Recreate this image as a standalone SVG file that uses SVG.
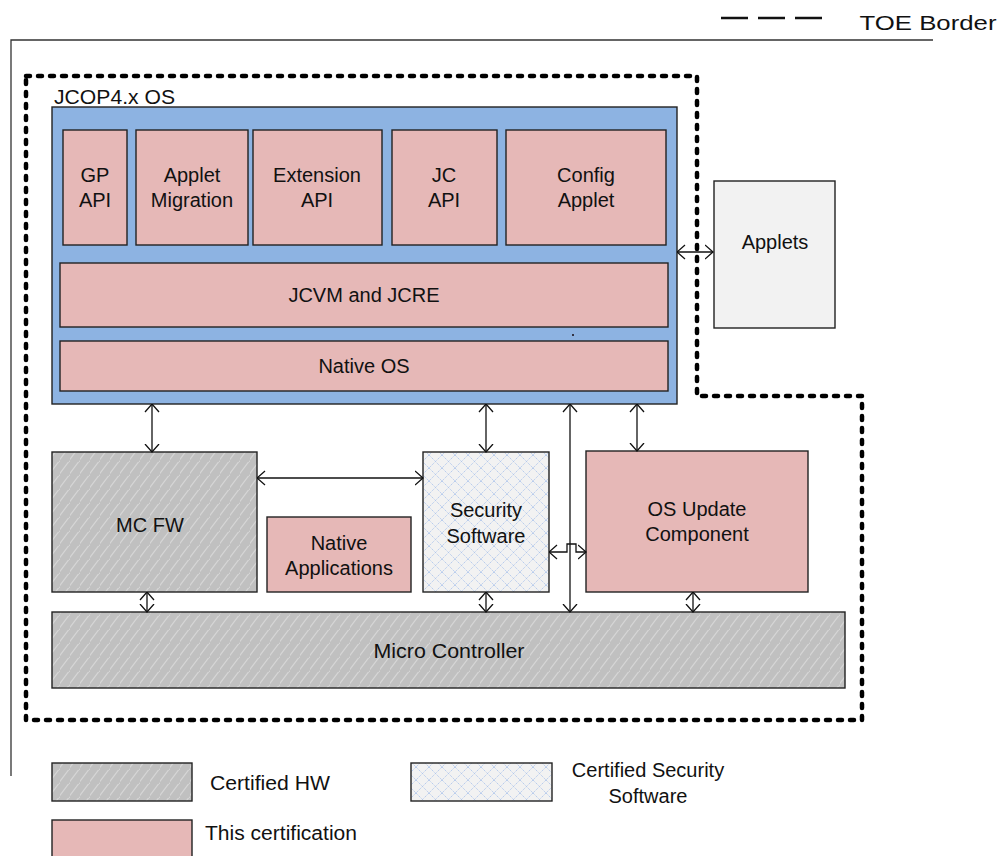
<svg xmlns="http://www.w3.org/2000/svg" width="1005" height="856" viewBox="0 0 1005 856">
<style>
text{font-family:"Liberation Sans",Arial,sans-serif;font-size:20px;fill:#111;text-anchor:middle}
.box{stroke:#222;stroke-width:1.4}
.pink{fill:#E6B8B7}
.blue{fill:#8DB3E2}
.hw{fill:url(#hatch)}
.sw{fill:url(#cross)}
.conn{fill:none;stroke:#111;stroke-width:1.3;marker-start:url(#ah);marker-end:url(#ah)}
</style>
<defs>
<pattern id="hatch" patternUnits="userSpaceOnUse" width="10" height="14">
<rect width="10" height="14" fill="#C0C0C0"/>
<path d="M-2,14 L10,-2 M8,16 L12,10" stroke="#D6D6D6" stroke-width="1.2" fill="none"/>
</pattern>
<pattern id="cross" patternUnits="userSpaceOnUse" width="13" height="13">
<rect width="13" height="13" fill="#F2F2F2"/>
<path d="M0,0 L13,13 M13,0 L0,13" stroke="#AFC6EC" stroke-width="1" stroke-dasharray="1.2 1" fill="none"/>
</pattern>
<marker id="ah" viewBox="0 0 9 16" markerWidth="9" markerHeight="16" refX="8.5" refY="8" orient="auto-start-reverse" markerUnits="userSpaceOnUse">
<path d="M0.5,1 L8.5,8 L0.5,15" fill="none" stroke="#111" stroke-width="1.3"/>
</marker>
</defs>
<rect width="1005" height="856" fill="#fff"/>

<g id="toe-legend">
<path d="M721,18 H823" stroke="#111" stroke-width="2.6" stroke-dasharray="27 10"/>
<text x="928" y="30" style="font-size:21px" textLength="137" lengthAdjust="spacingAndGlyphs">TOE Border</text>
</g>

<g id="outer-frame">
<path d="M933,40 H11 V776" fill="none" stroke="#333" stroke-width="1.3"/>
</g>

<g id="toe-border">
<path d="M26,76 H697 V396 H862 V720 H26 Z" fill="none" stroke="#000" stroke-width="4.5" stroke-linecap="round" stroke-linejoin="round" stroke-dasharray="4 8"/>
</g>

<g id="jcop-os">
<text x="54" y="104" style="text-anchor:start" textLength="121" lengthAdjust="spacingAndGlyphs">JCOP4.x OS</text>
<rect class="box blue" x="52" y="107" width="625" height="297"/>
</g>

<g id="gp-api">
<rect class="box pink" x="63" y="130" width="64" height="115"/>
<text x="95" y="182">GP</text><text x="95" y="207">API</text>
</g>
<g id="applet-migration">
<rect class="box pink" x="136" y="130" width="112" height="115"/>
<text x="192" y="182">Applet</text><text x="192" y="207">Migration</text>
</g>
<g id="extension-api">
<rect class="box pink" x="253" y="130" width="129" height="115"/>
<text x="317" y="182">Extension</text><text x="317" y="207">API</text>
</g>
<g id="jc-api">
<rect class="box pink" x="392" y="130" width="105" height="115"/>
<text x="444" y="182">JC</text><text x="444" y="207">API</text>
</g>
<g id="config-applet">
<rect class="box pink" x="506" y="130" width="160" height="115"/>
<text x="586" y="182">Config</text><text x="586" y="207">Applet</text>
</g>
<g id="jcvm-jcre">
<rect class="box pink" x="60" y="263" width="608" height="64"/>
<text x="364" y="302">JCVM and JCRE</text>
</g>
<rect x="572" y="334" width="2" height="2" fill="#334"/>
<g id="native-os">
<rect class="box pink" x="60" y="341" width="608" height="50"/>
<text x="364" y="373">Native OS</text>
</g>

<g id="applets">
<rect class="box" fill="#F2F2F2" x="714" y="181" width="121" height="147"/>
<text x="775" y="249">Applets</text>
</g>

<g id="mc-fw">
<rect class="box hw" x="52" y="452" width="205" height="140"/>
<text x="150" y="532">MC FW</text>
</g>
<g id="native-applications">
<rect class="box pink" x="267" y="517" width="144" height="75"/>
<text x="339" y="550">Native</text><text x="339" y="575">Applications</text>
</g>
<g id="security-software">
<rect class="box sw" x="423" y="452" width="126" height="140"/>
<text x="486" y="517">Security</text><text x="486" y="543">Software</text>
</g>
<g id="os-update">
<rect class="box pink" x="586" y="451" width="222" height="141"/>
<text x="697" y="516">OS Update</text><text x="697" y="541">Component</text>
</g>
<g id="micro-controller">
<rect class="box hw" x="52" y="612" width="793" height="76"/>
<text x="449" y="658" textLength="151" lengthAdjust="spacingAndGlyphs">Micro Controller</text>
</g>

<g id="connectors">
<path class="conn" d="M677,252 H713"/>
<path class="conn" d="M152,404 V452"/>
<path class="conn" d="M486,404 V452"/>
<path class="conn" d="M570,404 V612"/>
<path class="conn" d="M637,404 V451"/>
<path class="conn" d="M257,478 H423"/>
<path class="conn" d="M549,552 H567 V544 H576 V552 H586"/>
<path class="conn" d="M147,592 V612"/>
<path class="conn" d="M486,592 V612"/>
<path class="conn" d="M693,592 V612"/>
</g>

<g id="legend">
<rect class="box hw" x="52" y="763" width="140" height="38"/>
<text x="270" y="790" textLength="120" lengthAdjust="spacingAndGlyphs">Certified HW</text>
<rect class="box sw" x="411" y="763" width="141" height="38"/>
<text x="648" y="777">Certified Security</text>
<text x="648" y="803">Software</text>
<rect class="box pink" x="52" y="820" width="140" height="50"/>
<text x="281" y="840" textLength="152" lengthAdjust="spacingAndGlyphs">This certification</text>
</g>
</svg>
